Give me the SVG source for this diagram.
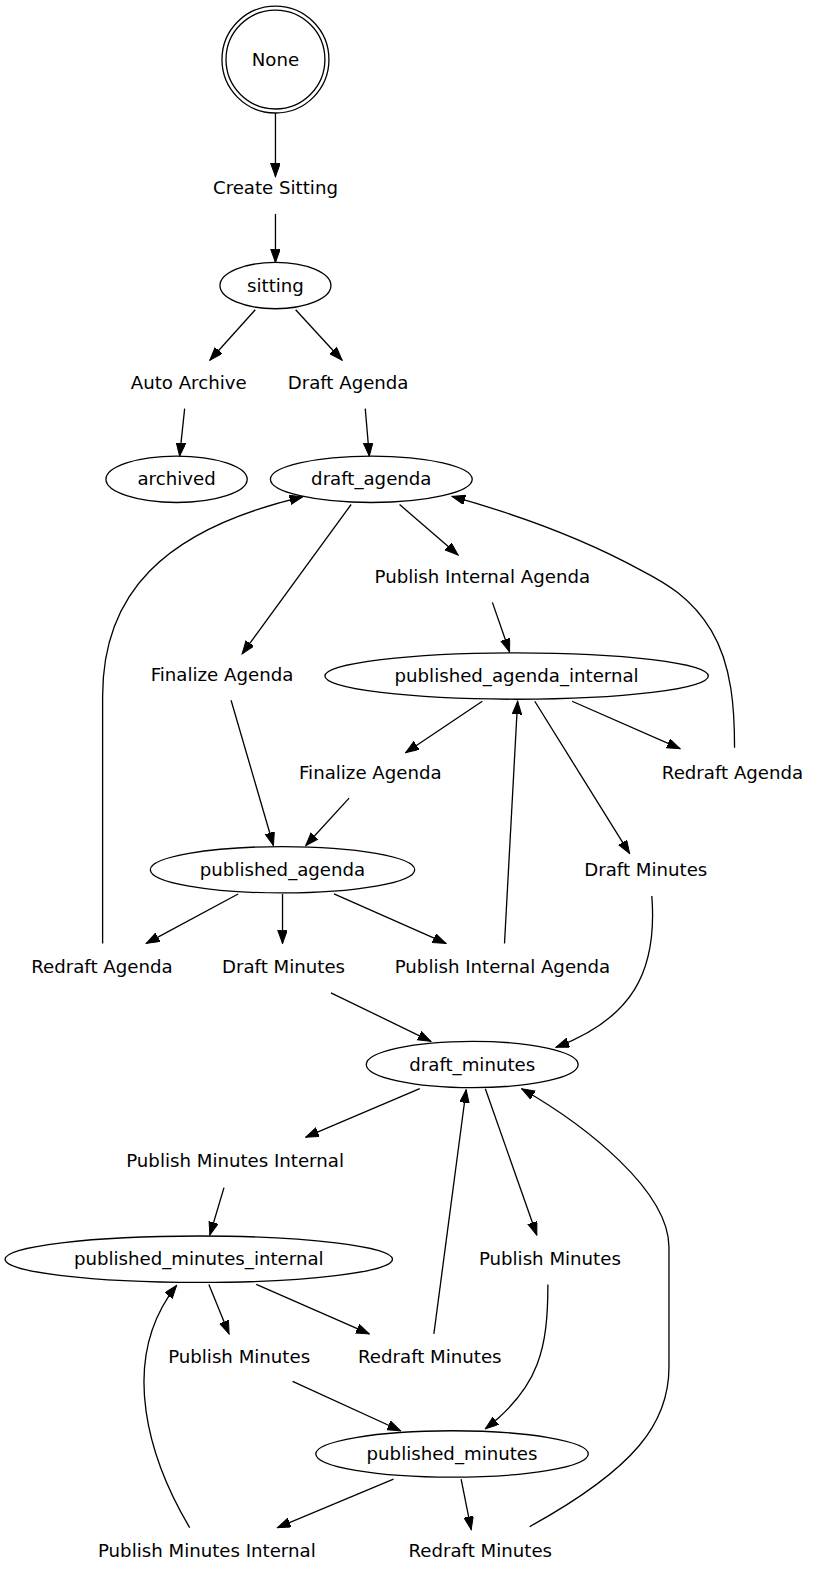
<svg xmlns="http://www.w3.org/2000/svg" width="819" height="1581" viewBox="0 0 819 1581">
<style>
text{font-family:"DejaVu Sans",sans-serif;font-size:18px;text-anchor:middle;fill:#000}
ellipse,circle{fill:none;stroke:#000;stroke-width:1.3}
.e path{fill:none;stroke:#000;stroke-width:1.3;marker-end:url(#ah)}
</style>
<defs>
<marker id="ah" markerUnits="userSpaceOnUse" markerWidth="14" markerHeight="10" refX="13" refY="4.7" orient="auto"><path d="M0,0 L13,4.7 L0,9.4 z" fill="#000" stroke="#000" stroke-width="1"/></marker>
</defs>
<rect width="819" height="1581" fill="#fff"/>
<g transform="scale(1.009)">
<g class="e" id="edges">
<path d="M273,112 L273,175"/>
<path d="M273,212 L273,260"/>
<path d="M253,307 L208,357"/>
<path d="M293,307 L339,357"/>
<path d="M183,405 L178,452"/>
<path d="M362,405 L366,452"/>
<path d="M348,500 L240,648"/>
<path d="M396,500 L454,550"/>
<path d="M488,597 L505,646"/>
<path d="M229,694 L271,838"/>
<path d="M478,695 L402,746"/>
<path d="M346,791 L303,838"/>
<path d="M567,695 L674,742"/>
<path d="M728,741 C728,705 726,660 705,625 C685,592 660,578 635,565 C580,535 520,512 448,492"/>
<path d="M530,695 L624,846"/>
<path d="M236,886 L145,935"/>
<path d="M280,886 L280,935"/>
<path d="M331,886 L442,935"/>
<path d="M101.7,935 L101.7,690 C101.7,590 160,525 300,492.5"/>
<path d="M500,935 L513,695"/>
<path d="M328,984 L427,1032"/>
<path d="M646,888 C652,965 625,1010 551,1038"/>
<path d="M416,1079 L303,1127"/>
<path d="M222,1177 L208,1224"/>
<path d="M481,1079 L532,1224"/>
<path d="M207,1273 L227,1322"/>
<path d="M254,1273 L366,1322"/>
<path d="M430,1322 L462,1080"/>
<path d="M543,1273 C543,1335 535,1375 481,1416"/>
<path d="M290,1369 L397,1418"/>
<path d="M390,1466 L275,1514"/>
<path d="M457,1466 L467,1516"/>
<path d="M188,1514 C150,1450 115,1350 175,1274"/>
<path d="M525,1513 C630,1455 663,1410 663,1355 L663,1236 C663,1180 580,1115 517,1079"/>
</g>
<g id="None"><circle cx="273" cy="59" r="53"/><circle cx="273" cy="59" r="49"/><text x="273" y="65">None</text></g>
<g id="t_create_sitting"><text x="273" y="192">Create Sitting</text></g>
<g id="sitting"><ellipse cx="273" cy="283" rx="55" ry="23"/><text x="273" y="289">sitting</text></g>
<g id="t_auto_archive"><text x="187" y="386">Auto Archive</text></g>
<g id="t_draft_agenda"><text x="345" y="386">Draft Agenda</text></g>
<g id="archived"><ellipse cx="175" cy="475" rx="70" ry="23"/><text x="175" y="481">archived</text></g>
<g id="draft_agenda"><ellipse cx="368" cy="475" rx="100" ry="23"/><text x="368" y="481">draft_agenda</text></g>
<g id="t_publish_internal_agenda_1"><text x="478" y="578">Publish Internal Agenda</text></g>
<g id="t_finalize_agenda_1"><text x="220" y="675">Finalize Agenda</text></g>
<g id="published_agenda_internal"><ellipse cx="512" cy="670" rx="190" ry="23"/><text x="512" y="676">published_agenda_internal</text></g>
<g id="t_finalize_agenda_2"><text x="367" y="772">Finalize Agenda</text></g>
<g id="t_redraft_agenda_1"><text x="726" y="772">Redraft Agenda</text></g>
<g id="published_agenda"><ellipse cx="280" cy="862" rx="131" ry="23"/><text x="280" y="868">published_agenda</text></g>
<g id="t_draft_minutes_1"><text x="640" y="868">Draft Minutes</text></g>
<g id="t_redraft_agenda_2"><text x="101" y="964">Redraft Agenda</text></g>
<g id="t_draft_minutes_2"><text x="281" y="964">Draft Minutes</text></g>
<g id="t_publish_internal_agenda_2"><text x="498" y="964">Publish Internal Agenda</text></g>
<g id="draft_minutes"><ellipse cx="468" cy="1055" rx="105" ry="23"/><text x="468" y="1061">draft_minutes</text></g>
<g id="t_publish_minutes_internal_1"><text x="233" y="1157">Publish Minutes Internal</text></g>
<g id="published_minutes_internal"><ellipse cx="197" cy="1248" rx="192" ry="23"/><text x="197" y="1254">published_minutes_internal</text></g>
<g id="t_publish_minutes_1"><text x="545" y="1254">Publish Minutes</text></g>
<g id="t_publish_minutes_2"><text x="237" y="1351">Publish Minutes</text></g>
<g id="t_redraft_minutes_1"><text x="426" y="1351">Redraft Minutes</text></g>
<g id="published_minutes"><ellipse cx="448" cy="1441" rx="135" ry="23"/><text x="448" y="1447">published_minutes</text></g>
<g id="t_publish_minutes_internal_2"><text x="205" y="1543">Publish Minutes Internal</text></g>
<g id="t_redraft_minutes_2"><text x="476" y="1543">Redraft Minutes</text></g>
</g>
</svg>
